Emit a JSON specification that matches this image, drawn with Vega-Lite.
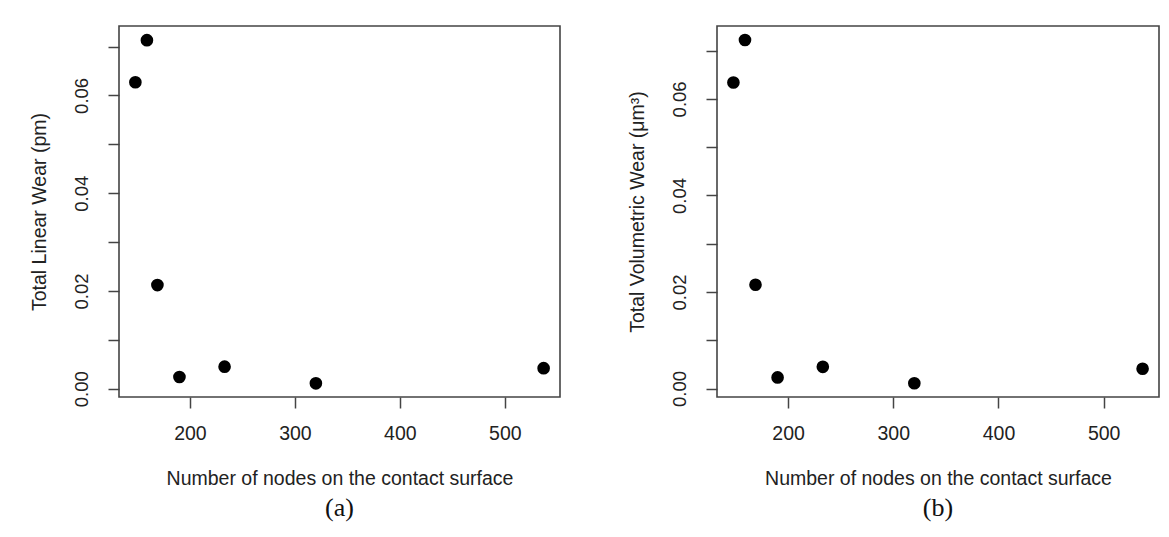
{
  "$schema": "https://vega.github.io/schema/vega-lite/v6.json",
  "background": "white",
  "padding": {"left": 28, "top": 25, "right": 0, "bottom": 0},
  "bounds": "flush",
  "spacing": 157,
  "config": {
    "view": {"stroke": "#444444", "strokeWidth": 1.6},
    "font": "Liberation Sans",
    "axis": {
      "grid": false, "domain": false,
      "tickColor": "#444444", "tickSize": 11, "tickWidth": 1.5,
      "labelFont": "Liberation Sans", "labelFontSize": 19.5, "labelColor": "#222222",
      "titleFont": "Liberation Sans", "titleFontSize": 19.5, "titleFontWeight": "normal", "titleColor": "#222222"
    },
    "title": {"font": "Liberation Serif", "fontSize": 26, "fontWeight": "normal", "color": "#111111", "orient": "bottom", "anchor": "middle", "offset": 7}
  },
  "data": {"values": [
    {"nodes": 148, "linear": 0.0627, "volumetric": 0.0634},
    {"nodes": 159, "linear": 0.0713, "volumetric": 0.0722},
    {"nodes": 169, "linear": 0.0212, "volumetric": 0.0215},
    {"nodes": 190, "linear": 0.0024, "volumetric": 0.0023},
    {"nodes": 233, "linear": 0.0045, "volumetric": 0.0045},
    {"nodes": 320, "linear": 0.0011, "volumetric": 0.0011},
    {"nodes": 537, "linear": 0.0042, "volumetric": 0.0041}
  ]},
  "hconcat": [
    {
      "title": "(a)",
      "width": 441, "height": 371,
      "mark": {"type": "point", "filled": true, "color": "black", "size": 160, "opacity": 1},
      "encoding": {
        "x": {"field": "nodes", "type": "quantitative",
          "scale": {"domain": [132.4, 552.6], "nice": false, "zero": false},
          "axis": {"title": "Number of nodes on the contact surface", "values": [200, 300, 400, 500], "labelPadding": 16, "titlePadding": 27}},
        "y": {"field": "linear", "type": "quantitative",
          "scale": {"domain": [-0.0017, 0.0742], "nice": false, "zero": false},
          "axis": {"title": "Total Linear Wear (pm)", "values": [0, 0.01, 0.02, 0.03, 0.04, 0.05, 0.06, 0.07],
            "labelExpr": "round(datum.value * 100) % 2 == 0 ? format(datum.value, '.2f') : ''",
            "labelFontSize": 18.5,
            "labelAngle": -90, "labelAlign": "center", "labelBaseline": "bottom", "labelPadding": 17, "titlePadding": 23}}
      }
    },
    {
      "title": "(b)",
      "width": 442, "height": 371,
      "mark": {"type": "point", "filled": true, "color": "black", "size": 160, "opacity": 1},
      "encoding": {
        "x": {"field": "nodes", "type": "quantitative",
          "scale": {"domain": [132.4, 552.6], "nice": false, "zero": false},
          "axis": {"title": "Number of nodes on the contact surface", "values": [200, 300, 400, 500], "labelPadding": 16, "titlePadding": 27}},
        "y": {"field": "volumetric", "type": "quantitative",
          "scale": {"domain": [-0.00175, 0.0751], "nice": false, "zero": false},
          "axis": {"title": "Total Volumetric Wear (μm³)", "values": [0, 0.01, 0.02, 0.03, 0.04, 0.05, 0.06, 0.07],
            "labelExpr": "round(datum.value * 100) % 2 == 0 ? format(datum.value, '.2f') : ''",
            "labelFontSize": 18.5,
            "labelAngle": -90, "labelAlign": "center", "labelBaseline": "bottom", "labelPadding": 17, "titlePadding": 23}}
      }
    }
  ]
}
